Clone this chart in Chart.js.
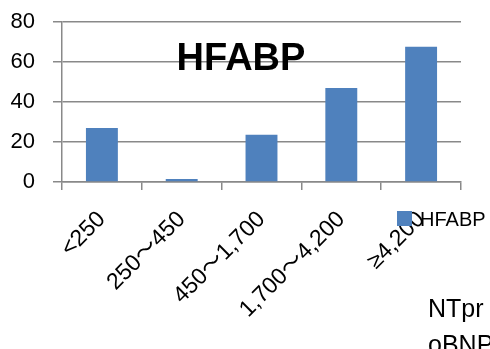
<!DOCTYPE html>
<html>
<head>
<meta charset="utf-8">
<script src="https://cdn.jsdelivr.net/npm/chart.js@4/dist/chart.umd.min.js"></script>
<style>
  html, body { margin: 0; padding: 0; background: #ffffff; }
  #wrap { width: 490px; height: 349px; }
</style>
</head>
<body>
<div id="wrap"><canvas id="chart" width="490" height="349"></canvas></div>
<script>
// NTproBNP ranges and the HFABP share in each range
const categories = ['<250', '250～450', '450～1,700', '1,700～4,200', '≥4,200'];
const seriesName = 'HFABP';
const hfabpValues = [27, 1.5, 23.6, 47, 67.6];
const yTicks = [0, 20, 40, 60, 80];
const chartTitle = 'HFABP';
const xTitleLines = ['NTpr', 'oBNP'];

const FONT = '"Liberation Sans", Arial, "Noto Sans CJK JP", sans-serif';
const BAR_BLUE = '#4F81BD';
const AXIS_GREY = '#898989';

// Title inside the plot, legend and the wrapped axis caption at the lower right
const textPlugin = {
  id: 'chartTexts',
  afterDraw(chart) {
    const ctx = chart.ctx;
    ctx.save();
    ctx.fillStyle = '#000000';

    ctx.font = 'bold 38px ' + FONT;
    ctx.textAlign = 'center';
    ctx.textBaseline = 'alphabetic';
    ctx.fillText(chartTitle, 241, 70);

    const ds = chart.data.datasets[0];
    ctx.fillStyle = ds.backgroundColor;
    ctx.fillRect(397, 211, 15, 15);
    ctx.fillStyle = '#000000';
    ctx.font = '20px ' + FONT;
    ctx.textAlign = 'left';
    ctx.fillText(ds.label, 420, 226);

    ctx.font = '25px ' + FONT;
    ctx.fillText(xTitleLines[0], 428, 317);
    ctx.fillText(xTitleLines[1], 428, 353);
    ctx.restore();
  }
};

new Chart(document.getElementById('chart'), {
  type: 'bar',
  data: {
    labels: categories,
    datasets: [{
      label: seriesName,
      data: hfabpValues,
      backgroundColor: BAR_BLUE,
      borderWidth: 0,
      barPercentage: 0.4,
      categoryPercentage: 1.0
    }]
  },
  options: {
    responsive: false,
    animation: false,
    layout: { padding: { top: 22, right: 29, left: 0, bottom: 0 } },
    plugins: {
      legend: { display: false },
      title: { display: false },
      tooltip: { enabled: false }
    },
    scales: {
      x: {
        offset: true,
        grid: {
          offset: true,
          drawOnChartArea: false,
          drawTicks: true,
          tickLength: 8,
          color: AXIS_GREY,
          lineWidth: 1.5
        },
        border: { display: true, color: AXIS_GREY, width: 1.5 },
        ticks: {
          autoSkip: false,
          minRotation: 45,
          maxRotation: 45,
          padding: 16,
          color: '#000000',
          font: { family: FONT, size: 23 }
        },
        afterFit(scale) { scale.height = 167; }
      },
      y: {
        min: 0,
        max: 80,
        afterBuildTicks(scale) { scale.ticks = yTicks.map(v => ({ value: v })); },
        grid: {
          drawTicks: true,
          tickLength: 9,
          color: AXIS_GREY,
          lineWidth: 1.5
        },
        border: { display: true, color: AXIS_GREY, width: 1.5 },
        ticks: {
          padding: 18,
          color: '#000000',
          font: { family: FONT, size: 22 }
        },
        afterFit(scale) {
          scale.width = 62;
          scale.paddingTop = 13;
          scale.paddingBottom = 13;
        }
      }
    }
  },
  plugins: [textPlugin]
});
</script>
</body>
</html>
